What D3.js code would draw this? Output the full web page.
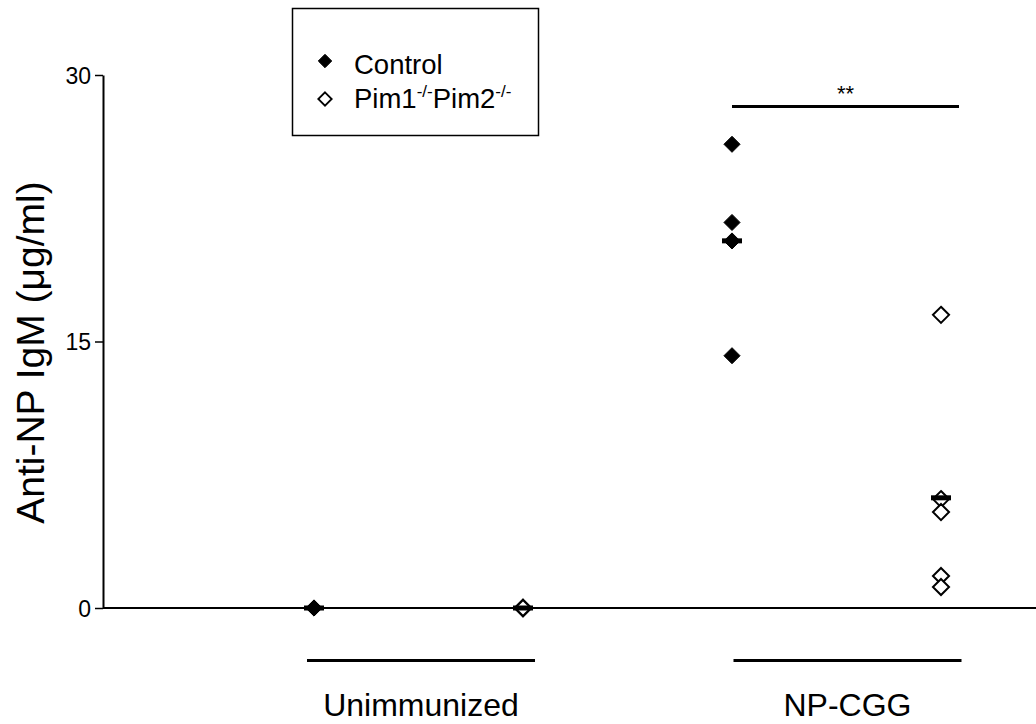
<!DOCTYPE html>
<html>
<head>
<meta charset="utf-8">
<script src="https://cdn.jsdelivr.net/npm/d3@7"></script>
<style>
  html, body { margin: 0; padding: 0; background: #fff; }
  svg { display: block; font-family: Arial, "Liberation Sans", Helvetica, sans-serif; }
</style>
</head>
<body>
<svg id="chart" width="1036" height="724"></svg>
<script>
// Anti-NP IgM titres (µg/ml) per mouse
const groups = ["Unimmunized", "NP-CGG"];
const genotypes = ["Control", "Pim1-/-Pim2-/-"];
const unimmunizedControl = [0, 0, 0, 0];
const unimmunizedPim = [0, 0, 0, 0];
const npcggControl = [26.1, 21.7, 20.66, 14.2];
const npcggPim = [16.5, 6.13, 5.4, 1.8, 1.18];
const yTicks = [0, 15, 30];
const significance = "**";

const columns = [
  { group: groups[0], genotype: genotypes[0], values: unimmunizedControl },
  { group: groups[0], genotype: genotypes[1], values: unimmunizedPim },
  { group: groups[1], genotype: genotypes[0], values: npcggControl },
  { group: groups[1], genotype: genotypes[1], values: npcggPim }
];
columns.forEach((c, i) => { c.key = i; c.mean = d3.mean(c.values); });

const svg = d3.select("#chart");

const y = d3.scaleLinear().domain([0, 30]).range([608, 75]);
const x = d3.scalePoint().domain(columns.map(c => c.key)).range([314, 941]);
const band = d3.scaleBand().domain(groups).range([307, 961.5]).paddingInner(0.4654).paddingOuter(0);
const fill = d3.scaleOrdinal().domain(genotypes).range(["#000", "#fff"]);

const diamond = d3.symbol().type(d3.symbolDiamond2).size(165);

// baseline at zero
svg.append("line")
  .attr("x1", 103).attr("x2", 1036)
  .attr("y1", y(0)).attr("y2", y(0))
  .attr("stroke", "#000").attr("stroke-width", 2);

// y axis
const yAxis = svg.append("g")
  .attr("transform", "translate(103,0)")
  .call(d3.axisLeft(y).tickValues(yTicks).tickSize(8).tickSizeOuter(0).tickPadding(4));
yAxis.attr("font-size", 23).attr("font-family", "Arial, 'Liberation Sans', sans-serif");
yAxis.select(".domain").attr("stroke", "#000").attr("stroke-width", 2);
yAxis.selectAll(".tick line").attr("stroke", "#000").attr("stroke-width", 1.5);
yAxis.selectAll(".tick text")
  .attr("fill", "#000")
  .attr("dy", "0.36em");

// y axis title
svg.append("text")
  .attr("transform", `translate(44,${(y(0) + y(30)) / 2 + 11}) rotate(-90)`)
  .attr("text-anchor", "middle")
  .attr("font-size", 39)
  .text("Anti-NP IgM (\u03BCg/ml)");

// points
columns.forEach(c => {
  svg.append("g").selectAll("path")
    .data(c.values)
    .join("path")
    .attr("d", diamond)
    .attr("transform", v => `translate(${x(c.key)},${y(v)})`)
    .attr("fill", fill(c.genotype))
    .attr("stroke", "#000")
    .attr("stroke-width", c.genotype === genotypes[0] ? 1 : 2);
});

// mean bars
svg.append("g").selectAll("rect")
  .data(columns)
  .join("rect")
  .attr("x", c => x(c.key) - 10)
  .attr("y", c => y(c.mean) - 2.5)
  .attr("width", 20)
  .attr("height", 5)
  .attr("fill", "#000");

// group brackets and labels
groups.forEach(g => {
  svg.append("line")
    .attr("x1", band(g)).attr("x2", band(g) + band.bandwidth())
    .attr("y1", 660.5).attr("y2", 660.5)
    .attr("stroke", "#000").attr("stroke-width", 3);
  svg.append("text")
    .attr("x", band(g) + band.bandwidth() / 2).attr("y", 716)
    .attr("text-anchor", "middle")
    .attr("font-size", 32)
    .text(g);
});

// significance bar over NP-CGG
const sigCols = columns.filter(c => c.group === groups[1]);
svg.append("line")
  .attr("x1", x(sigCols[0].key)).attr("x2", x(sigCols[1].key) + 18)
  .attr("y1", 106.5).attr("y2", 106.5)
  .attr("stroke", "#000").attr("stroke-width", 3);
svg.append("text")
  .attr("x", (x(sigCols[0].key) + x(sigCols[1].key) + 18) / 2)
  .attr("y", 101)
  .attr("text-anchor", "middle")
  .attr("font-size", 22)
  .text(significance);

// legend
const legend = svg.append("g");
legend.append("rect")
  .attr("x", 292.5).attr("y", 8.5)
  .attr("width", 246).attr("height", 127)
  .attr("fill", "#fff").attr("stroke", "#000").attr("stroke-width", 1.5);

const legendRows = [
  { genotype: genotypes[0], cy: 61 },
  { genotype: genotypes[1], cy: 99 }
];
legendRows.forEach(r => {
  legend.append("path")
    .attr("d", d3.symbol().type(d3.symbolDiamond2).size(115))
    .attr("transform", `translate(325,${r.cy})`)
    .attr("fill", fill(r.genotype))
    .attr("stroke", "#000")
    .attr("stroke-width", r.genotype === genotypes[0] ? 1 : 1.8);
});

legend.append("text")
  .attr("x", 354).attr("y", 74)
  .attr("font-size", 27.5)
  .text(genotypes[0]);

const pimLabel = legend.append("text")
  .attr("x", 354).attr("y", 108)
  .attr("font-size", 27.5);
pimLabel.append("tspan").text("Pim1");
pimLabel.append("tspan").attr("font-size", 17).attr("dy", -11).text("-/-");
pimLabel.append("tspan").attr("dy", 11).text("Pim2");
pimLabel.append("tspan").attr("font-size", 17).attr("dy", -11).text("-/-");
</script>
</body>
</html>
